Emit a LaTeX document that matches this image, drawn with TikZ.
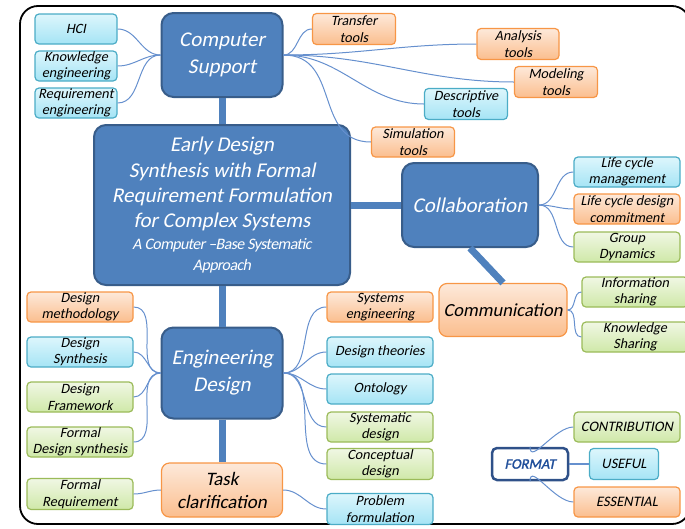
\documentclass[tikz,border=0pt]{standalone}
\usepackage{fontspec}
\setmainfont{Carlito}[ItalicFont={Carlito}, ItalicFeatures={FakeSlant=0.2}]
\newfontfamily\fmtfont{Carlito}[FakeSlant=0.2, FakeBold=1.5]
\newcommand\fsz[2]{\fontsize{#1}{#2}\selectfont}
\definecolor{mainblue}{HTML}{4F81BD}
\definecolor{mainedge}{HTML}{385D8A}
\definecolor{linkblue}{HTML}{6690CE}
\definecolor{bedge}{HTML}{4BACC6}
\definecolor{btop}{HTML}{DDF6FC}
\definecolor{bbot}{HTML}{A5E4F5}
\definecolor{oedge}{HTML}{F79646}
\definecolor{otop}{HTML}{FDE9DA}
\definecolor{obot}{HTML}{FBBE8E}
\definecolor{gedge}{HTML}{9BBB59}
\definecolor{gtop}{HTML}{F0F7E4}
\definecolor{gbot}{HTML}{CFE8A8}
\definecolor{fmtedge}{HTML}{2F5189}
\definecolor{fmttext}{HTML}{1F4E9A}
\tikzset{
  big/.style={rounded corners=12pt, fill=mainblue, draw=mainedge, line width=2pt,
    text=white, font=\itshape\fsz{21}{27}, align=center, inner sep=0pt},
  leaf/.style={rounded corners=4pt, line width=1.2pt, inner sep=0pt, align=center,
    font=\itshape\fsz{14.2}{16.5}, minimum width=106pt, minimum height=30pt},
  leafb/.style={leaf, draw=bedge, top color=btop, bottom color=bbot},
  leafo/.style={leaf, draw=oedge, top color=otop, bottom color=obot},
  leafg/.style={leaf, draw=gedge, top color=gtop, bottom color=gbot},
  thickc/.style={draw=mainblue, line width=7pt},
  thinc/.style={draw=linkblue, line width=1pt},
}
\begin{document}
\begin{tikzpicture}[x=1pt,y=-1pt]
\useasboundingbox (0,0) rectangle (685,528);
\begin{scope}
\clip (0,0) rectangle (685,528);
\draw[line width=1.8pt, rounded corners=18pt] (20,6) rectangle (690,524);
\end{scope}

% main blue nodes
\node[big, minimum width=121pt, minimum height=84pt] (cs) at (222,55) {Computer\\Support};
\node[big, minimum width=256pt, minimum height=160pt, font=\itshape\fsz{21}{25.3}] (main) at (222,205)
  {Early Design\\Synthesis with Formal\\Requirement Formulation\\for Complex Systems\\[-3pt]
   {\fsz{16}{20}\addfontfeatures{LetterSpace=-4}A Computer –Base Systematic}\\[-5pt]
   {\fsz{16}{20}\addfontfeatures{LetterSpace=-4}Approach}};
\node[big, minimum width=136pt, minimum height=84pt] (col) at (470,205) {Collaboration};
\node[big, minimum width=121pt, minimum height=91pt] (ed) at (222,373) {Engineering\\Design};

% orange large
\node[leafo, rounded corners=8pt, minimum width=128pt, minimum height=53pt, font=\itshape\fsz{18.5}{23}] (comm) at (503,310) {Communication};
\node[leafo, rounded corners=8pt, minimum width=121pt, minimum height=54pt, font=\itshape\fsz{19}{23}] (task) at (222,490) {Task\\clarification};

% thick connectors
\draw[thickc] (cs.south) -- (main.north);
\draw[thickc] (main.south) -- (ed.north);
\draw[thickc] (ed.south) -- (task.north);
\draw[thickc] (main.east) -- (col.west);
\draw[thickc] (col.south) -- (comm.north);

% computer support leaves
\node[leafb, minimum width=82pt] (hci) at (76,29) {HCI};
\node[leafb, minimum width=82pt] (ke) at (76,66) {Knowledge\\engineering};
\node[leafb, minimum width=82pt] (re) at (76,103) {Requirement\\engineering};
\node[leafo, minimum width=83pt, minimum height=31pt] (tt) at (354,29) {Transfer\\tools};
\node[leafo, minimum width=82pt, minimum height=31pt] (at) at (518,44) {Analysis\\tools};
\node[leafo, minimum width=83pt, minimum height=31pt] (mt) at (556,82) {Modeling\\tools};
\node[leafb, minimum width=83pt, minimum height=31pt] (dt) at (466,104) {Descriptive\\tools};
\node[leafo, minimum width=83pt] (st) at (413,142) {Simulation\\tools};

\draw[thinc] (cs.west) to[out=180,in=0] (hci.east);
\draw[thinc] (cs.west) to[out=180,in=0] (ke.east);
\draw[thinc] (cs.west) to[out=180,in=0] (re.east);
\draw[thinc] (cs.east) to[out=0,in=180] (tt.west);
\draw[thinc] (cs.east) to[out=0,in=180] (at.west);
\draw[thinc] (cs.east) to[out=0,in=180] (mt.west);
\draw[thinc] (cs.east) to[out=0,in=180] (dt.west);
\draw[thinc] (cs.east) to[out=0,in=180,looseness=1.2] (st.west);

% collaboration leaves
\node[leafb] (lcm) at (627,172) {Life cycle\\management};
\node[leafo] (lcd) at (627,209) {Life cycle design\\commitment};
\node[leafg] (gd) at (627,247) {Group\\Dynamics};
\draw[thinc] (col.east) to[out=0,in=180] (lcm.west);
\draw[thinc] (col.east) to[out=0,in=180] (lcd.west);
\draw[thinc] (col.east) to[out=0,in=180] (gd.west);

% communication leaves
\node[leafg] (is) at (635,292) {Information\\sharing};
\node[leafg] (ks) at (635,337) {Knowledge\\Sharing};
\draw[thinc] (comm.east) to[out=0,in=180] (is.west);
\draw[thinc] (comm.east) to[out=0,in=180] (ks.west);

% engineering design leaves left
\node[leafo] (dm) at (80,307) {Design\\methodology};
\node[leafb] (ds) at (80,352) {Design\\Synthesis};
\node[leafg] (df) at (80,397) {Design\\Framework};
\node[leafg] (fds) at (80,442) {Formal\\Design synthesis};
\node[leafg, minimum height=31pt] (frq) at (80,494) {Formal\\Requirement};
\draw[thinc] (ed.west) to[out=180,in=0] (dm.east);
\draw[thinc] (ed.west) to[out=180,in=0] (ds.east);
\draw[thinc] (ed.west) to[out=180,in=0] (df.east);
\draw[thinc] (ed.west) to[out=180,in=0] (fds.east);
\draw[thinc] (task.west) to[out=180,in=0] (frq.east);

% engineering design leaves right
\node[leafo] (se) at (380,307) {Systems\\engineering};
\node[leafb] (dth) at (380,352) {Design theories};
\node[leafb] (ont) at (380,389) {Ontology};
\node[leafg] (sd) at (380,427) {Systematic\\design};
\node[leafg, minimum height=31pt] (cd) at (380,464) {Conceptual\\design};
\node[leafb, minimum height=31pt] (pf) at (380,509) {Problem\\formulation};
\draw[thinc] (ed.east) to[out=0,in=180] (se.west);
\draw[thinc] (ed.east) to[out=0,in=180] (dth.west);
\draw[thinc] (ed.east) to[out=0,in=180] (ont.west);
\draw[thinc] (ed.east) to[out=0,in=180] (sd.west);
\draw[thinc] (ed.east) to[out=0,in=180] (cd.west);
\draw[thinc] (task.east) to[out=0,in=180] (pf.west);

% legend
\node[draw=fmtedge, line width=2.5pt, fill=white, rounded corners=5pt, minimum width=76pt,
  minimum height=32pt, inner sep=0pt, text=fmttext, font=\fmtfont\fsz{14.5}{17}] (fmt) at (530,464) {FORMAT};
\node[leafg, font=\itshape\fsz{14.5}{17}] (con) at (627,427) {CONTRIBUTION};
\node[leafb, minimum width=69pt, minimum height=31pt, font=\itshape\fsz{14.5}{17}] (use) at (624,464) {USEFUL};
\node[leafo, font=\itshape\fsz{14.5}{17}] (ess) at (627,502) {ESSENTIAL};
\draw[thinc] (fmt.north) to[out=-90,in=180] (con.west);
\draw[thinc, line width=2pt] (fmt.east) -- (use.west);
\draw[thinc] (fmt.south) to[out=90,in=180] (ess.west);
\end{tikzpicture}
\end{document}
